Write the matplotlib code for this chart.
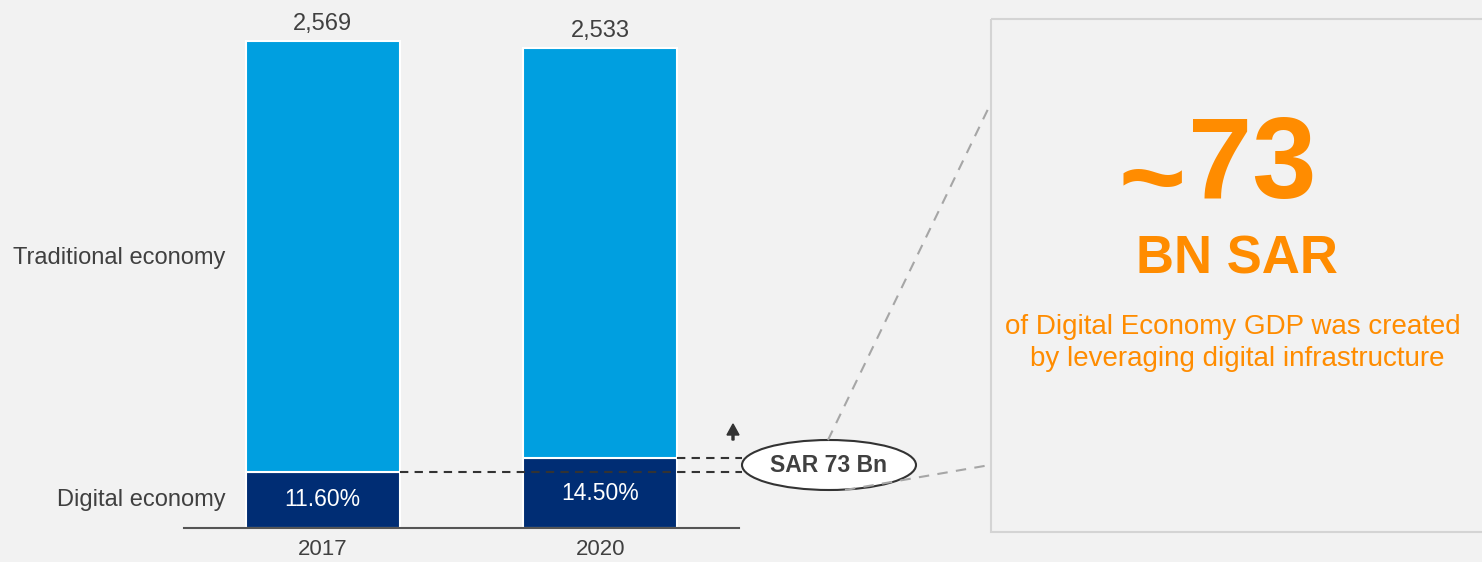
import matplotlib
matplotlib.use("Agg")
import matplotlib.pyplot as plt
from matplotlib.patches import Ellipse, Rectangle, FancyArrow

plt.rcParams['font.family'] = ['Liberation Sans', 'DejaVu Sans']

# ---- data ----
years = ["2017", "2020"]
totals = [2569, 2533]
digital_share = [11.60, 14.50]
series_names = ["Traditional economy", "Digital economy"]
callout_label = "SAR 73 Bn"
headline_prefix = "~"
headline_value = "73"
headline_unit = "BN SAR"
headline_text = ["of Digital Economy GDP was created", "by leveraging digital infrastructure"]

digital = [t * s / 100 for t, s in zip(totals, digital_share)]
traditional = [t - d for t, d in zip(totals, digital)]

BG = "#f2f2f2"
LIGHT = "#009fe0"
NAVY = "#002d74"
TXT = "#404040"
ORANGE = "#ff8c00"

W, H = 1482, 562
fig = plt.figure(figsize=(W / 100, H / 100), dpi=100, facecolor=BG)

# overlay axes in pixel coordinates for decorations
ov = fig.add_axes([0, 0, 1, 1], zorder=0)
ov.set_xlim(0, W)
ov.set_ylim(H, 0)
ov.axis("off")
ov.set_facecolor(BG)

# bar axes
ax = fig.add_axes([184 / W, 34 / H, 555 / W, 528 / H], zorder=2)
ax.patch.set_alpha(0)
x = list(range(len(years)))
bw = 0.555
ax.bar(x, digital, width=bw, color=NAVY, edgecolor="white", linewidth=1.5)
ax.bar(x, traditional, bottom=digital, width=bw, color=LIGHT, edgecolor="white", linewidth=1.5)
ax.set_xlim(-0.5, 1.5)
ax.set_ylim(0, 2569 * 528 / 487)
for s in ["top", "right", "left"]:
    ax.spines[s].set_visible(False)
ax.spines["bottom"].set_color("#555555")
ax.spines["bottom"].set_linewidth(1.5)
ax.set_yticks([])
ax.set_xticks(x)
ax.set_xticklabels(years, fontsize=16, color=TXT)
ax.tick_params(axis="x", length=0, pad=8)

for xi, t, d, s in zip(x, totals, digital, digital_share):
    ax.text(xi, t + 30, f"{t:,}", ha="center", va="bottom", fontsize=17, color=TXT)
    ax.text(xi, d / 2, f"{s:.2f}%", ha="center", va="center", fontsize=16.5, color="white")

# series labels on left
lab_x = -0.35
ax.text(lab_x, digital[0] + traditional[0] / 2 - 8, series_names[0], ha="right", va="center",
        fontsize=17, color=TXT, clip_on=False)
ax.text(lab_x, digital[0] / 2, series_names[1], ha="right", va="center",
        fontsize=17, color=TXT, clip_on=False)

# dashed lines from digital tops toward callout
x_end = 1 + (742 - 600.5) / 277.5
for xi, d in zip(x, digital):
    ax.plot([xi + bw / 2, x_end], [d, d], linestyle=(0, (4, 3)), color="#333333",
            linewidth=1.5, clip_on=False, zorder=3)

# callout ellipse
ov.add_patch(Ellipse((829, 465), 174, 50, facecolor="white", edgecolor="#333333",
                     linewidth=1.5, zorder=5))
ov.text(829, 466, callout_label, ha="center", va="center", fontsize=16.5,
        fontweight="bold", color=TXT, zorder=6)

# small up arrow
ov.add_patch(FancyArrow(733, 440, 0, -16, width=2, head_width=12, head_length=11,
                        length_includes_head=True, color="#333333", zorder=4))

# connector lines to box
ov.plot([828, 990], [440, 105], linestyle=(0, (5, 4)), color="#a6a6a6", linewidth=1.5, zorder=7)
ov.plot([845, 990], [490, 465], linestyle=(0, (5, 4)), color="#a6a6a6", linewidth=1.5, zorder=7)

# box
ov.add_patch(Rectangle((991, 19), 520, 513, facecolor="none", edgecolor="#d4d4d4",
                       linewidth=1.5, zorder=1))

ov.text(1188, 168, headline_value, ha="left", va="center", fontsize=83,
        fontweight="bold", color=ORANGE)
ov.text(1186, 186, headline_prefix, ha="right", va="center", fontsize=83,
        fontweight="bold", color=ORANGE)
ov.text(1237, 259, headline_unit, ha="center", va="center", fontsize=38,
        fontweight="bold", color=ORANGE)
ov.text(1233, 327, headline_text[0], ha="center", va="center", fontsize=20, color=ORANGE)
ov.text(1237, 359, headline_text[1], ha="center", va="center", fontsize=20, color=ORANGE)

fig.savefig("out.png", dpi=100, facecolor=BG)
